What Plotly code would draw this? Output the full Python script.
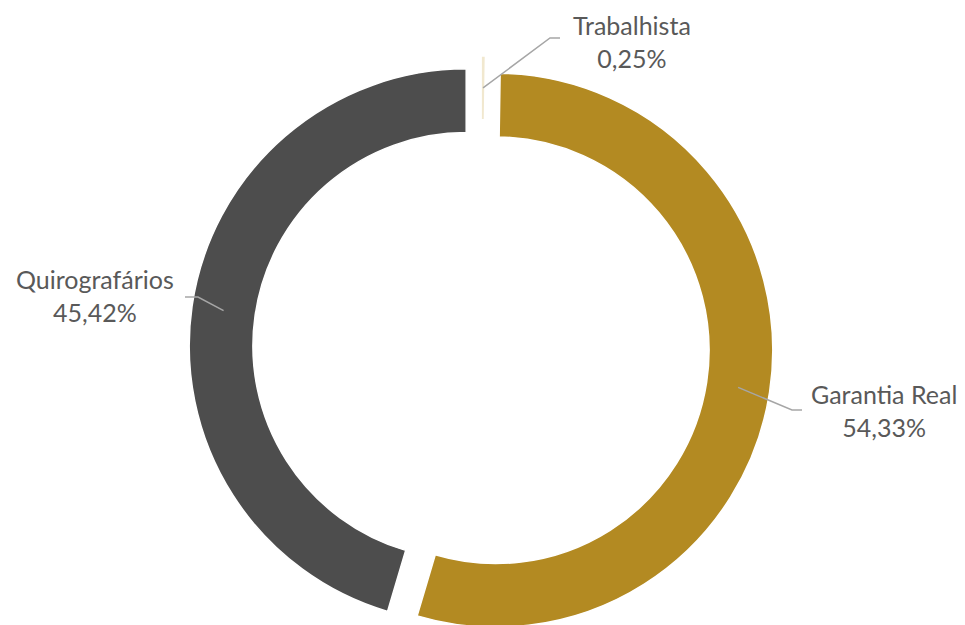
import math
import plotly.graph_objects as go

# Dados (ordem no sentido horário a partir das 12h)
categorias = ["Trabalhista", "Garantia Real", "Quirografários"]
percentuais = [0.25, 54.33, 45.42]
rotulos_pct = ["0,25%", "54,33%", "45,42%"]
cores = ["#F1E8CF", "#B38A22", "#4D4D4D"]

# Geometria (pixels, origem da figura; a página desloca 8px)
W, H = 957, 660
OFF = 8
CX, CY = 481 - OFF, 348 - OFF
RAIO = 277
PUXAO = 0.054
FURO = 0.77

# posição dos rótulos e das linhas de chamada (coordenadas da tela)
pos_rotulo = [(632, 41), (884, 410), (95, 296)]
cotovelo = [(550, 38), (792, 410), (198, 297)]
fim_linha = [(560, 38), (802, 410), (185, 297)]

box = 2 * RAIO * (1 + PUXAO)


def px(x, y):
    return x / W, 1 - y / H


def tela(x, y):
    return px(x - OFF, y - OFF)


fig = go.Figure(go.Pie(
    labels=categorias,
    values=percentuais,
    hole=FURO,
    sort=False,
    direction="clockwise",
    rotation=0,
    pull=PUXAO,
    textinfo="none",
    marker=dict(colors=cores, line=dict(color="white", width=1.5)),
    domain=dict(x=[(CX - box / 2) / W, (CX + box / 2) / W],
                y=[1 - (CY + box / 2) / H, 1 - (CY - box / 2) / H]),
    showlegend=False,
))

total = sum(percentuais)
acum = 0
r_meio = (1 + FURO) / 2 * RAIO
for i, v in enumerate(percentuais):
    ang = math.radians((acum + v / 2) / total * 360)
    acum += v
    ux, uy = math.sin(ang), -math.cos(ang)
    sx = CX + PUXAO * RAIO * ux + r_meio * ux
    sy = CY + PUXAO * RAIO * uy + r_meio * uy
    p0 = px(sx, sy)
    p1 = tela(*cotovelo[i])
    p2 = tela(*fim_linha[i])
    fig.add_shape(
        type="path", xref="paper", yref="paper",
        path=f"M {p0[0]},{p0[1]} L {p1[0]},{p1[1]} L {p2[0]},{p2[1]}",
        line=dict(color="#A6A6A6", width=1.5),
    )
    tx, ty = tela(*pos_rotulo[i])
    fig.add_annotation(
        x=tx, y=ty, xref="paper", yref="paper",
        text=f"{categorias[i]}<br>{rotulos_pct[i]}",
        showarrow=False, align="center",
        xanchor="center", yanchor="middle",
        font=dict(family="Lato", size=25, color="#595959"),
    )

fig.update_layout(
    width=W, height=H,
    margin=dict(l=0, r=0, t=0, b=0),
    paper_bgcolor="white",
    plot_bgcolor="white",
)

fig.write_html("out.html")
